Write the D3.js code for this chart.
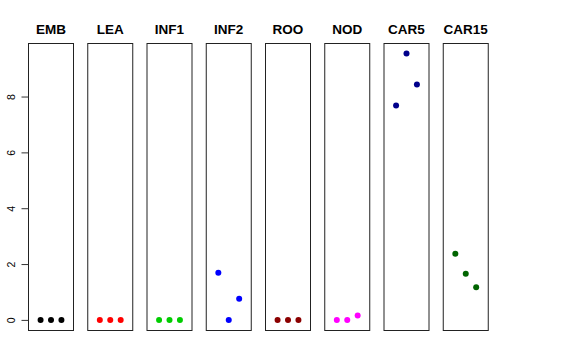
<!DOCTYPE html>
<html>
<head>
<meta charset="utf-8">
<script src="https://cdn.jsdelivr.net/npm/d3@7"></script>
<style>
  html, body { margin: 0; padding: 0; background: #fff; }
  svg { display: block; }
</style>
</head>
<body>
<svg id="chart" width="576" height="360"></svg>
<script>
// ---- data ----
const categories = ["EMB", "LEA", "INF1", "INF2", "ROO", "NOD", "CAR5", "CAR15"];
const colors = ["#000000", "#FF0000", "#00CD00", "#0000FF", "#8B0000", "#FF00FF", "#00008B", "#006400"];
const replicate = [1, 2, 3];
const valuesEMB = [0, 0, 0];
const valuesLEA = [0, 0, 0];
const valuesINF1 = [0, 0, 0];
const valuesINF2 = [1.69, 0, 0.76];
const valuesROO = [0, 0, 0];
const valuesNOD = [0, 0, 0.16];
const valuesCAR5 = [7.68, 9.54, 8.43];
const valuesCAR15 = [2.37, 1.65, 1.17];
const yTicks = [0, 2, 4, 6, 8];

const seriesValues = [valuesEMB, valuesLEA, valuesINF1, valuesINF2, valuesROO, valuesNOD, valuesCAR5, valuesCAR15];

// ---- layout ----
const svg = d3.select("#chart");
const panelLeft0 = 28.5, panelStep = 59.25, panelW = 45;
const plotTop = 43.5, plotBottom = 330.5;

const y = d3.scaleLinear().domain([-0.38, 9.9]).range([plotBottom, plotTop]);

categories.forEach((cat, i) => {
  const left = panelLeft0 + i * panelStep;
  const x = d3.scaleLinear().domain([-0.16, 4.16]).range([left, left + panelW]);
  const g = svg.append("g");

  g.append("rect")
    .attr("x", left).attr("y", plotTop)
    .attr("width", panelW).attr("height", plotBottom - plotTop)
    .attr("fill", "none").attr("stroke", "#222").attr("stroke-width", 1);

  g.append("text")
    .attr("x", left + panelW / 2).attr("y", 34)
    .attr("text-anchor", "middle")
    .attr("font-family", "Liberation Sans, Arial, sans-serif")
    .attr("font-weight", "bold").attr("font-size", 13.5)
    .text(cat);

  g.selectAll("circle")
    .data(seriesValues[i].map((v, j) => ({ r: replicate[j], v })))
    .join("circle")
    .attr("cx", d => x(d.r))
    .attr("cy", d => y(d.v))
    .attr("r", 3)
    .attr("fill", colors[i]);
});

// y axis on first panel
const axis = d3.axisLeft(y).tickValues(yTicks).tickSize(7).tickPadding(4).tickFormat(d3.format("d"));
const ag = svg.append("g").attr("transform", `translate(${panelLeft0},0)`).call(axis);
ag.select(".domain").remove();
ag.selectAll(".tick line").attr("stroke", "#333");
ag.selectAll(".tick text")
  .attr("font-family", "Liberation Sans, Arial, sans-serif")
  .attr("font-size", 10.5)
  .attr("fill", "#000")
  .attr("text-anchor", "middle")
  .attr("dy", null)
  .attr("x", null)
  .attr("transform", "translate(-18,0) rotate(-90)")
  .attr("dominant-baseline", "central");
</script>
</body>
</html>
